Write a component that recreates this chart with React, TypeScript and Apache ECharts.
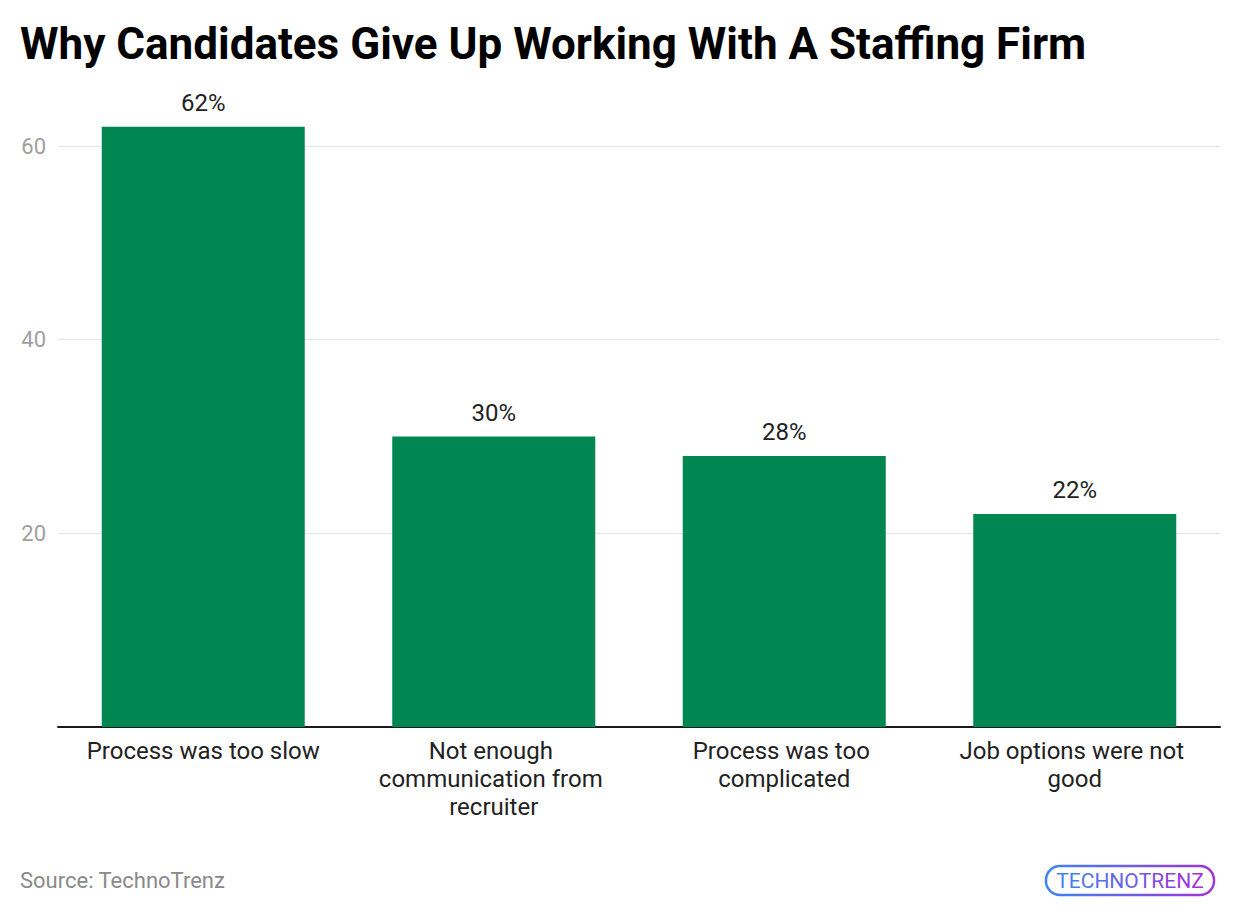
import React, { useEffect, useRef } from "react";
import * as echarts from "echarts";

const categories = [
  "Process was too slow",
  "Not enough communication from recruiter",
  "Process was too complicated",
  "Job options were not good",
];
const values = [62, 30, 28, 22];
const yTicks = [20, 40, 60];
const logoLetters = ["T", "E", "C", "H", "N", "O", "T", "R", "E", "N", "Z"];
const logoColors = [
  "#3d86f2", "#457ef0", "#4e76ee", "#5a6eec", "#6566ea", "#705ee6",
  "#7a55e3", "#844cdf", "#8e43dc", "#973bd9", "#a034d6",
];

export default function App() {
  const ref = useRef<HTMLDivElement>(null);
  useEffect(() => {
    if (!ref.current) return;
    const chart = echarts.init(ref.current, undefined, { renderer: "svg" });
    const font = "Roboto, 'Noto Sans', sans-serif";
    const rich: Record<string, any> = {};
    logoLetters.forEach((_, i) => {
      rich["l" + i] = { fill: logoColors[i], font: `21px ${font}` };
    });
    const logoText = logoLetters.map((c, i) => `{l${i}|${c}}`).join("");
    chart.setOption({
      animation: false,
      backgroundColor: "#ffffff",
      title: {
        text: "Why Candidates Give Up Working With A Staffing Firm",
        left: 15,
        top: 17,
        textStyle: { fontFamily: font, fontWeight: "bold", fontSize: 44, color: "#000000" },
      },
      grid: { left: 58, right: 20, top: 88, bottom: 187, containLabel: false },
      xAxis: {
        type: "category",
        data: categories,
        axisLine: { show: true, lineStyle: { color: "#1a1a1a", width: 2 } },
        axisTick: { show: false },
        axisLabel: {
          interval: 0,
          color: "#222222",
          fontFamily: font,
          fontSize: 24,
          lineHeight: 28,
          margin: 10,
          width: 250,
          overflow: "break",
        },
      },
      yAxis: {
        type: "value",
        min: 0,
        max: 66,
        interval: 20,
        axisLine: { show: false },
        axisTick: { show: false },
        splitLine: { showMaxLine: false, lineStyle: { color: "#e3e3e3", width: 1 } },
        axisLabel: {
          color: "#a0a0a0",
          fontFamily: font,
          fontSize: 22,
          margin: 12,
          showMaxLabel: false,
          formatter: (v: number) => (yTicks.includes(v) ? String(v) : ""),
        },
      },
      series: [
        {
          type: "bar",
          data: values,
          barWidth: 203,
          itemStyle: { color: "#008751" },
          label: {
            show: true,
            position: "top",
            distance: 12,
            formatter: "{c}%",
            color: "#222222",
            fontFamily: font,
            fontSize: 24,
          },
        },
      ],
      graphic: [
        {
          type: "text",
          left: 20,
          top: 869,
          style: { text: "Source: TechnoTrenz", fill: "#8a8a8a", font: `22px ${font}` },
        },
        {
          type: "rect",
          shape: { x: 1046, y: 866, width: 168, height: 29, r: 14 },
          style: {
            fill: "none",
            lineWidth: 2.5,
            stroke: new echarts.graphic.LinearGradient(0, 0, 1, 0, [
              { offset: 0, color: "#3d86f2" },
              { offset: 1, color: "#a034d6" },
            ]),
          },
        },
        {
          type: "text",
          x: 1130,
          y: 881,
          style: {
            text: logoText,
            rich,
            align: "center",
            verticalAlign: "middle",
            font: `21px ${font}`,
          },
        },
      ],
    });
    return () => chart.dispose();
  }, []);
  return (
    <div
      ref={ref}
      style={{ position: "fixed", left: 0, top: 0, width: 1240, height: 914 }}
    />
  );
}
